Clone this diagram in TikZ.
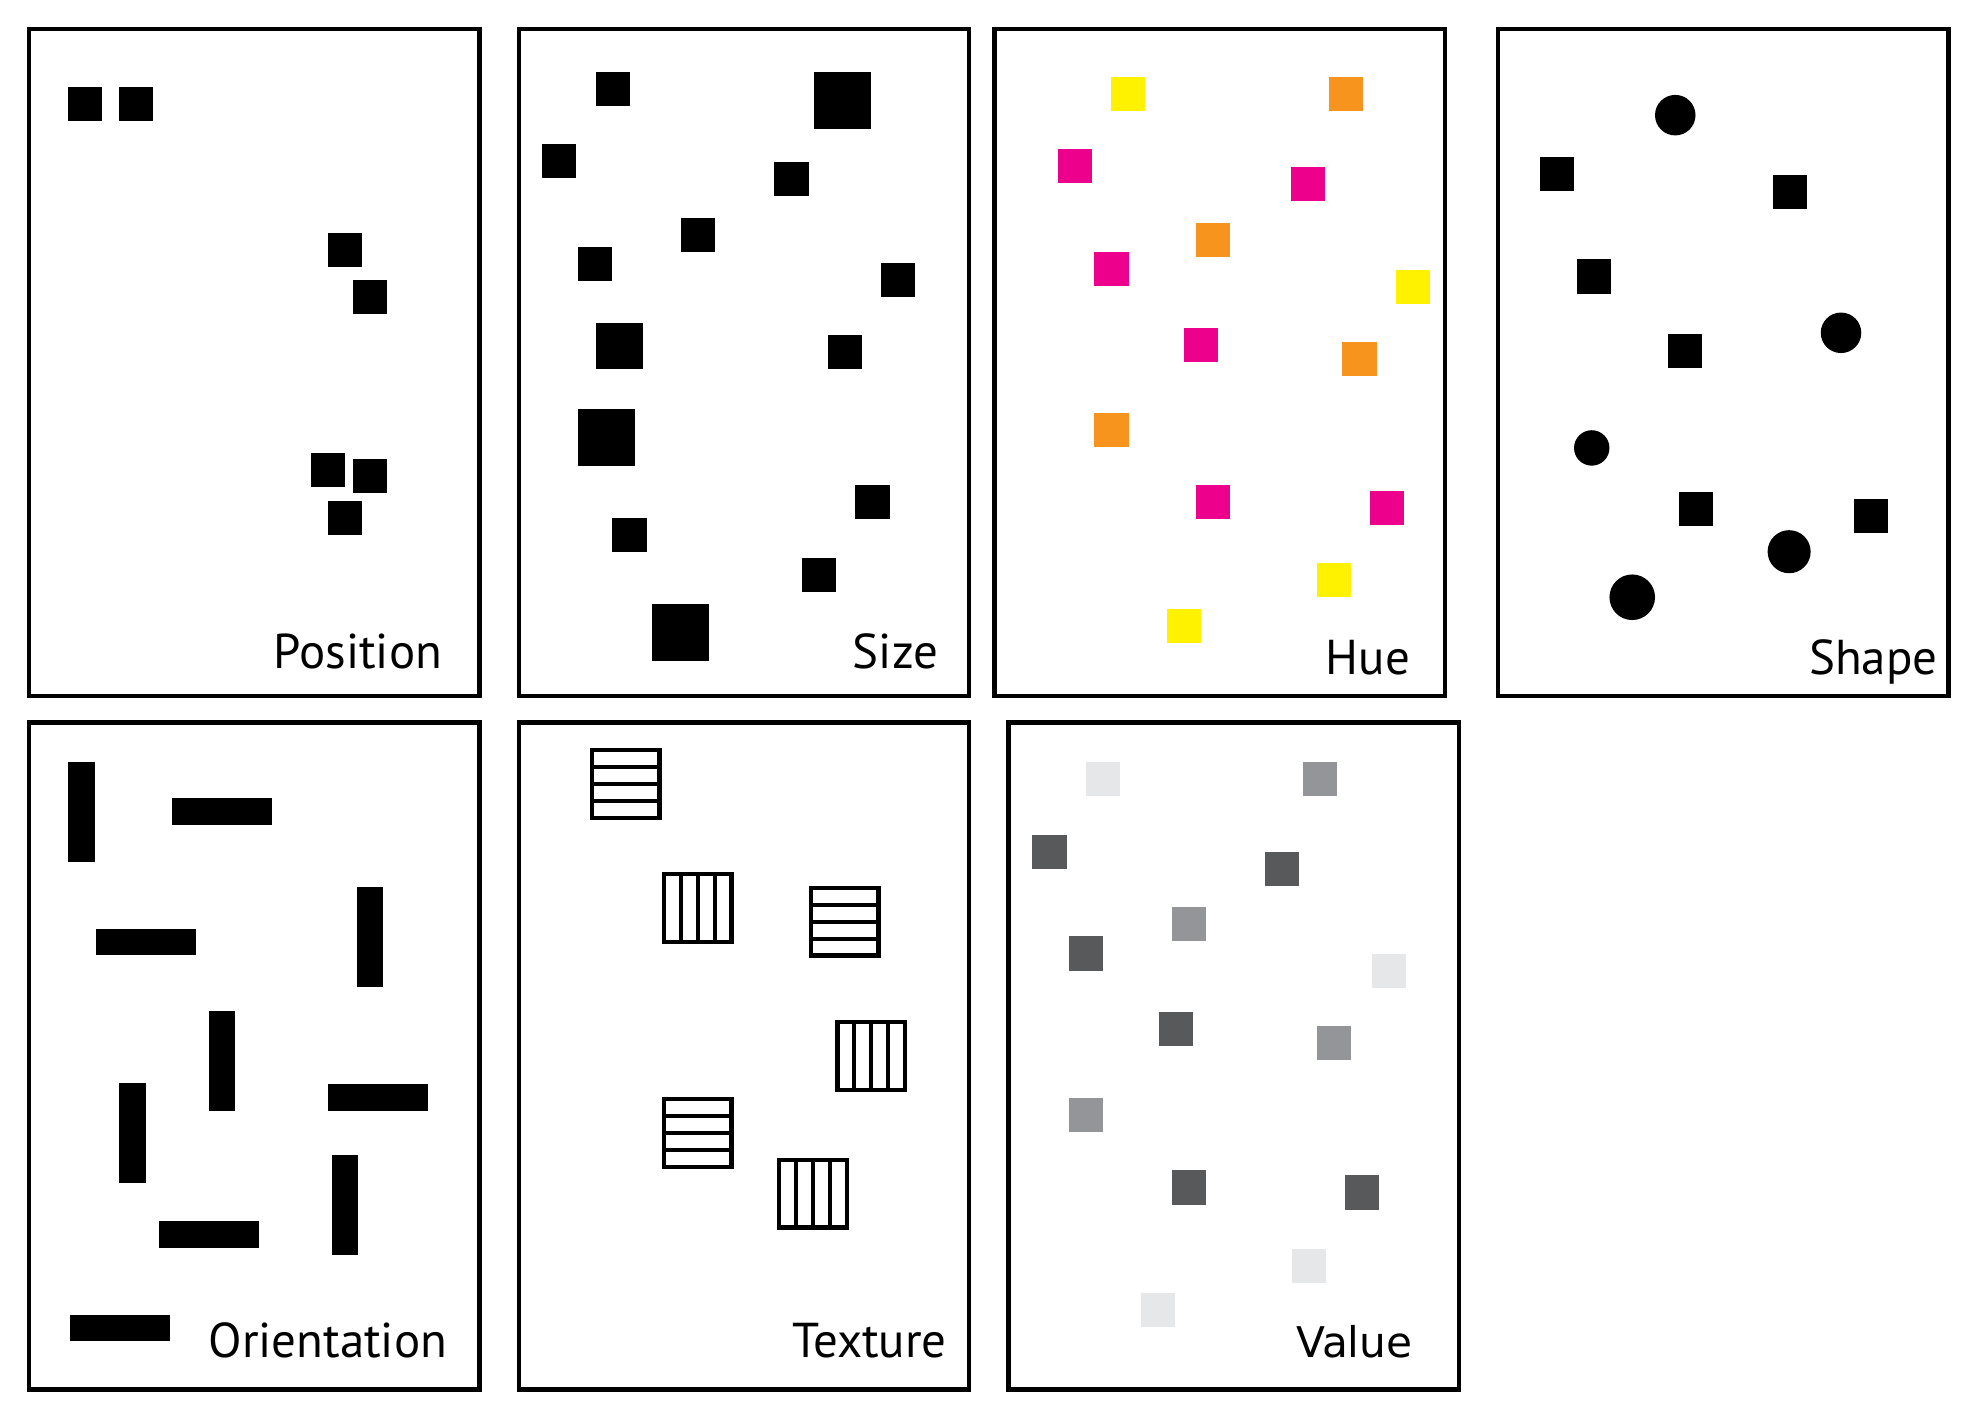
\documentclass[tikz,border=0pt]{standalone}
\usepackage{fontspec}
\setmainfont{PT Sans}
\newfontfamily\valfont{DejaVu Sans}
\definecolor{hy}{HTML}{FFF200}
\definecolor{ho}{HTML}{F7941D}
\definecolor{hm}{HTML}{EC008C}
\definecolor{vl}{HTML}{E6E7E8}
\definecolor{vm}{HTML}{939598}
\definecolor{vd}{HTML}{58595B}
\newcommand{\sqr}[4]{\fill[#1] (#2,#3) rectangle ++(#4,#4);}
\newcommand{\hstr}[2]{\fill[black] (#1,#2) rectangle ++(57,57);
  \foreach \k in {0,...,3}{\fill[white] ({#1+3.5},{#2+3.5+\k*13.375}) rectangle ++(50,9.875);}}
\newcommand{\vstr}[2]{\fill[black] (#1,#2) rectangle ++(57,57);
  \foreach \k in {0,...,3}{\fill[white] ({#1+3.5+\k*13.375},{#2+3.5}) rectangle ++(9.875,50);}}
\tikzset{
  panel/.style={draw=black, line width=1pt},
  lbl/.style={anchor=base east, inner sep=0pt, font=\fontsize{11}{13}\selectfont},
}
\begin{document}
\begin{tikzpicture}[x=0.01cm, y=-0.01cm]
\useasboundingbox (0,0) rectangle (1568,1123);
% panels
\draw[panel] (23,23) rectangle (379,550);
\draw[panel] (410,23) rectangle (766,550);
\draw[panel] (786,23) rectangle (1142,550);
\draw[panel] (1184,23) rectangle (1540,550);
\draw[panel] (23,571) rectangle (379,1098);
\draw[panel] (410,571) rectangle (766,1098);
\draw[panel] (797,571) rectangle (1153,1098);
% Position
\sqr{black}{54}{69}{27}
\sqr{black}{94}{69}{27}
\sqr{black}{259}{184}{27}
\sqr{black}{279}{221}{27}
\sqr{black}{246}{358}{27}
\sqr{black}{279}{363}{27}
\sqr{black}{259}{396}{27}
\node[lbl] (lpos) at (350,528) {Position};
% Size
\sqr{black}{471}{57}{27}
\sqr{black}{643}{57}{45}
\sqr{black}{428}{114}{27}
\sqr{black}{612}{128}{27}
\sqr{black}{538}{172}{27}
\sqr{black}{457}{195}{27}
\sqr{black}{696}{208}{27}
\sqr{black}{471}{255}{37}
\sqr{black}{654}{265}{27}
\sqr{black}{457}{323}{45}
\sqr{black}{676}{383}{27}
\sqr{black}{484}{409}{27}
\sqr{black}{634}{441}{27}
\sqr{black}{515}{477}{45}
\node[lbl] (lsize) at (742,528) {Size};
% Hue
\sqr{hy}{878}{61}{27}
\sqr{ho}{1050}{61}{27}
\sqr{hm}{836}{118}{27}
\sqr{hm}{1020}{132}{27}
\sqr{ho}{945}{176}{27}
\sqr{hm}{865}{199}{27}
\sqr{hy}{1103}{213}{27}
\sqr{hm}{936}{259}{27}
\sqr{ho}{1061}{270}{27}
\sqr{ho}{865}{326}{27}
\sqr{hm}{945}{383}{27}
\sqr{hm}{1083}{388}{27}
\sqr{hy}{1041}{445}{27}
\sqr{hy}{922}{481}{27}
\node[lbl] (lhue) at (1115,533) {Hue};
% Shape
\fill (1324,91) circle[radius=0.16cm];
\sqr{black}{1217}{124}{27}
\sqr{black}{1401}{138}{27}
\sqr{black}{1246}{205}{27}
\fill (1455,263) circle[radius=0.16cm];
\sqr{black}{1318}{264}{27}
\fill (1258,354) circle[radius=0.14cm];
\sqr{black}{1327}{389}{27}
\sqr{black}{1465}{394}{27}
\fill (1414,436) circle[radius=0.17cm];
\fill (1290,472) circle[radius=0.18cm];
\node[lbl] (lshape) at (1532,533) {Shape};
% Orientation
\fill (54,602) rectangle ++(21,79);
\fill (136,631) rectangle ++(79,21);
\fill (76,734) rectangle ++(79,21);
\fill (282,701) rectangle ++(21,79);
\fill (165,799) rectangle ++(21,79);
\fill (259,857) rectangle ++(79,21);
\fill (94,856) rectangle ++(21,79);
\fill (262,913) rectangle ++(21,79);
\fill (126,965) rectangle ++(79,21);
\fill (55,1039) rectangle ++(79,21);
\node[lbl] (lori) at (354,1073) {Orientation};
% Texture
\hstr{466}{591}
\vstr{523}{689}
\hstr{639}{700}
\vstr{660}{806}
\hstr{523}{867}
\vstr{614}{915}
\node[lbl] (ltex) at (749,1073) {Texture};
% Value
\sqr{vl}{858}{602}{27}
\sqr{vm}{1030}{602}{27}
\sqr{vd}{816}{660}{27}
\sqr{vd}{1000}{673}{27}
\sqr{vm}{926}{717}{27}
\sqr{vd}{845}{740}{27}
\sqr{vl}{1084}{754}{27}
\sqr{vd}{916}{800}{27}
\sqr{vm}{1041}{811}{27}
\sqr{vm}{845}{868}{27}
\sqr{vd}{926}{925}{27}
\sqr{vd}{1063}{929}{27}
\sqr{vl}{1021}{987}{27}
\sqr{vl}{902}{1022}{27}
\node[lbl, font=\valfont\fontsize{9.5}{12}\selectfont] (lval) at (1117,1073) {Value};
\end{tikzpicture}
\end{document}
